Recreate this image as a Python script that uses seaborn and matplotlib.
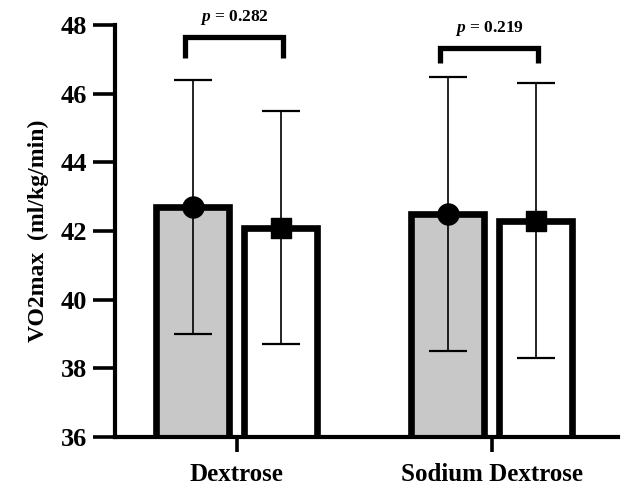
import numpy as np
import pandas as pd
import seaborn as sns
from matplotlib import pyplot as plt

groups = ['Dextrose', 'Sodium Dextrose']
phases = ['Pre', 'Post']
means_pre = [42.7, 42.5]
means_post = [42.1, 42.3]
sd_pre = [3.7, 4.0]
sd_post = [3.4, 4.0]
p_labels = ['0.282', '0.219']
bracket_top = [47.65, 47.33]
bracket_leg = [47.05, 46.9]

df = pd.DataFrame({
    'group': groups * 2,
    'phase': [phases[0]] * 2 + [phases[1]] * 2,
    'vo2': means_pre + means_post,
})

sns.set_style('white')
plt.rcParams['font.family'] = ['Liberation Serif', 'DejaVu Serif']
plt.rcParams['font.weight'] = 'bold'
plt.rcParams['mathtext.fontset'] = 'custom'
plt.rcParams['mathtext.it'] = 'Liberation Serif:italic:bold'
plt.rcParams['mathtext.rm'] = 'Liberation Serif:bold'
for key in ['text.color', 'axes.labelcolor', 'xtick.color', 'ytick.color']:
    plt.rcParams[key] = 'black'

fig = plt.figure(figsize=(6.24, 4.9), dpi=100)
ax = fig.add_axes([0.184, 0.108, 0.806, 0.841])

sns.barplot(data=df, x='group', y='vo2', hue='phase', order=groups, hue_order=phases,
            palette={'Pre': '#c8c8c8', 'Post': 'white'}, edgecolor='black', linewidth=4.8,
            errorbar=None, width=0.69, gap=0.17, legend=False, ax=ax)

centers = {}
for phase, cont, means, sds, mk in zip(phases, ax.containers, [means_pre, means_post],
                                       [sd_pre, sd_post], ['o', 's']):
    xs = [b.get_x() + b.get_width() / 2 for b in cont]
    centers[phase] = xs
    ax.errorbar(xs, means, yerr=sds, fmt='none', ecolor='black', elinewidth=1.2,
                capsize=14, capthick=1.6, zorder=3)
    ax.scatter(xs, means, marker=mk, s=230 if mk == 'o' else 200, color='black', zorder=4,
               clip_on=False)

for i in range(len(groups)):
    x0 = centers['Pre'][i] - 0.03
    x1 = centers['Post'][i] + 0.01
    ax.plot([x0, x0, x1, x1], [bracket_leg[i], bracket_top[i], bracket_top[i], bracket_leg[i]],
            color='black', lw=3.8, solid_joinstyle='miter', solid_capstyle='butt', clip_on=False)
    ax.text((x0 + x1) / 2, bracket_top[i] + 0.3, r'$p$ = ' + p_labels[i], ha='center',
            va='bottom', fontsize=12.5, fontweight='bold')

ax.set_ylim(36, 48)
ax.set_xlim(-0.478, 1.494)
ax.set_yticks(np.arange(36, 49, 2))
ax.set_xlabel('')
ax.set_ylabel('VO2max  (ml/kg/min)', fontsize=17, fontweight='bold', labelpad=8)
ax.tick_params(axis='y', direction='out', length=16, width=2.6, labelsize=19, pad=4, left=True)
ax.tick_params(axis='x', direction='out', length=11, width=2.6, labelsize=18, pad=8, bottom=True)
for lab in ax.get_xticklabels() + ax.get_yticklabels():
    lab.set_fontweight('bold')

sns.despine(ax=ax)
for side in ['left', 'bottom']:
    ax.spines[side].set_linewidth(3)
    ax.spines[side].set_color('black')

fig.savefig('out.png', dpi=100)
